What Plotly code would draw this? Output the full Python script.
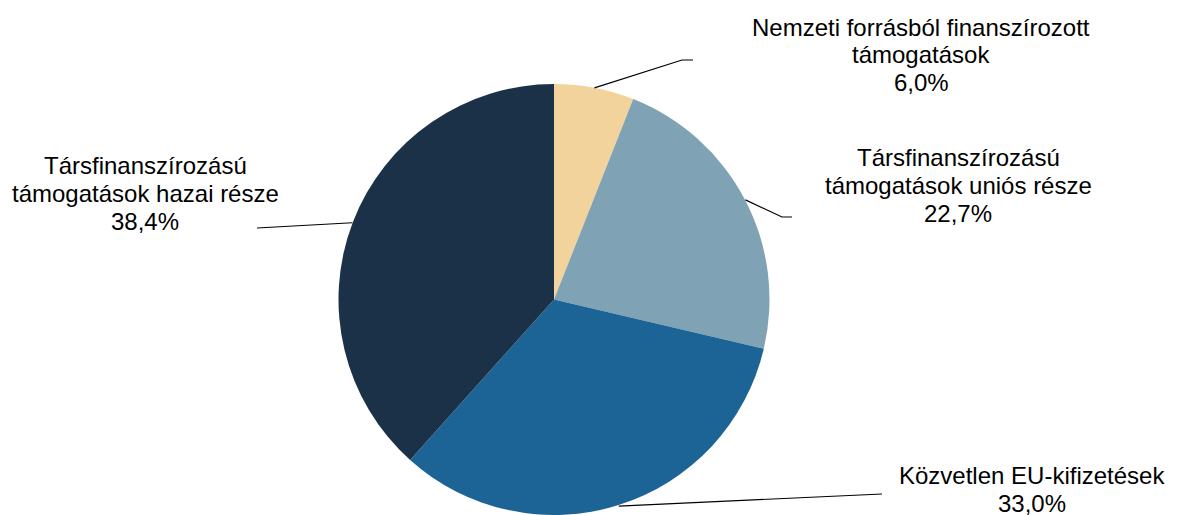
import math
import plotly.graph_objects as go

categories = [
    "Nemzeti forrásból finanszírozott<br>támogatások",
    "Társfinanszírozású<br>támogatások uniós része",
    "Közvetlen EU-kifizetések",
    "Társfinanszírozású<br>támogatások hazai része",
]
values = [6.0, 22.7, 33.0, 38.4]
colors = ["#F2D39B", "#7FA2B5", "#1D6496", "#1B3147"]

W, H = 1181, 515
CX, CY, R = 554, 300, 216

# label layout (pixel positions): elbow point, line end, text centre (x, first line y)
elbows = [(682, 60), (782, 217), None, None]
ends = [(693, 60), (792, 217), (882, 494), (257, 228)]
text_pos = [(921, 27), (958, 157), (1032, 475), (145, 165)]
LINE_H = 28

def px(x):
    return x / W

def py(y):
    return 1 - y / H

fig = go.Figure()
fig.add_trace(go.Pie(
    labels=[c.replace("<br>", " ") for c in categories],
    values=values,
    sort=False,
    direction="clockwise",
    rotation=0,
    marker=dict(colors=colors, line=dict(width=0)),
    textinfo="none",
    hoverinfo="label+percent",
    showlegend=False,
    domain=dict(x=[px(CX - R), px(CX + R)], y=[max(0, py(CY + R)), py(CY - R)]),
))

total = sum(values)
cum = 0
for i, v in enumerate(values):
    mid = (cum + v / 2) / total * 2 * math.pi
    cum += v
    sx = CX + R * math.sin(mid)
    sy = CY - R * math.cos(mid)
    pts = [(sx, sy)]
    if elbows[i] is not None:
        pts.append(elbows[i])
    pts.append(ends[i])
    path = "M " + " L ".join(f"{px(a):.5f},{py(b):.5f}" for a, b in pts)
    fig.add_shape(type="path", path=path, xref="paper", yref="paper",
                  line=dict(color="black", width=1.2))
    pct = f"{v:.1f}".replace(".", ",") + "%"
    lines = categories[i].split("<br>") + [pct]
    tx, ty = text_pos[i]
    for k, ln in enumerate(lines):
        fig.add_annotation(
            x=px(tx), y=py(ty + k * LINE_H), xref="paper", yref="paper",
            text=ln, showarrow=False, xanchor="center", yanchor="middle",
            align="center",
            font=dict(family="Liberation Sans, Arial, sans-serif", size=24, color="black"),
        )

fig.update_layout(
    width=W, height=H,
    margin=dict(l=0, r=0, t=0, b=0),
    paper_bgcolor="white", plot_bgcolor="white",
)
fig.write_html("out.html", config={"displayModeBar": False},
               post_script="document.body.style.margin='0';")
